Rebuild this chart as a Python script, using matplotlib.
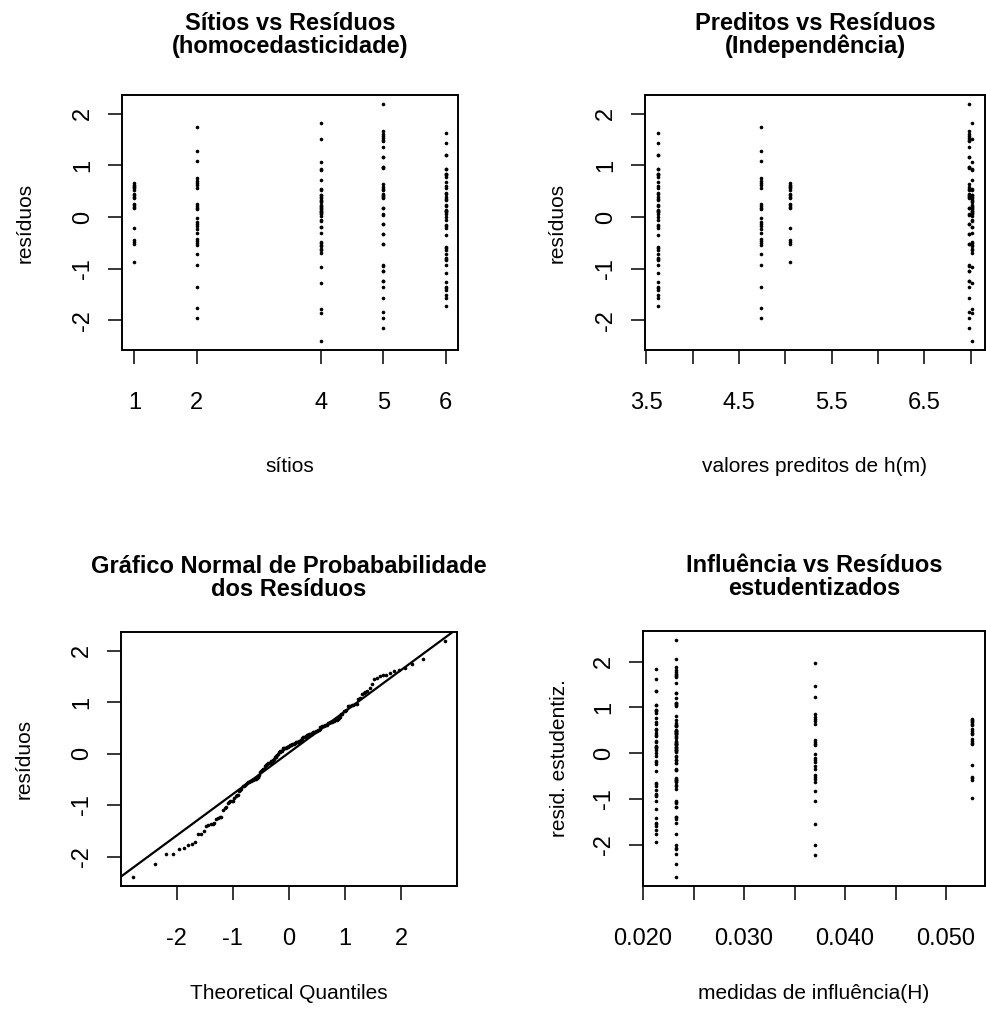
import numpy as np
import matplotlib
matplotlib.use("Agg")
from matplotlib import pyplot as plt
from statistics import NormalDist

# dados: resíduos por sítio
sitios = [1, 2, 4, 5, 6]
preditos = [5.05, 4.74, 7.02, 6.98, 3.62]        # valores preditos de h(m) por sítio
influencia = [0.0526, 0.0370, 0.0233, 0.0233, 0.0213]  # h_ii por sítio

res_s1 = [0.65, 0.63, 0.61, 0.59, 0.56, 0.53, 0.45, 0.42, 0.39, 0.36,
          0.26, 0.23, 0.20, 0.18, -0.22, -0.45, -0.48, -0.52, -0.86]
res_s2 = [1.74, 1.28, 1.08, 0.76, 0.70, 0.66, 0.62, 0.56, 0.26, 0.22,
          0.18, 0.15, -0.02, -0.10, -0.14, -0.18, -0.24, -0.30, -0.42, -0.46,
          -0.50, -0.55, -0.72, -0.93, -1.36, -1.76, -1.96]
res_s4 = [1.83, 1.52, 1.06, 0.93, 0.92, 0.72, 0.54, 0.52, 0.43, 0.42,
          0.38, 0.37, 0.33, 0.32, 0.30, 0.24, 0.22, 0.20, 0.17, 0.16,
          0.12, 0.11, 0.10, 0.08, 0.06, 0.03, -0.05, -0.07, -0.19, -0.20,
          -0.30, -0.49, -0.50, -0.54, -0.56, -0.61, -0.63, -0.69, -0.96, -1.28,
          -1.78, -1.86, -2.39]
res_s5 = [2.18, 1.67, 1.60, 1.57, 1.53, 1.50, 1.47, 1.36, 1.17, 1.16,
          0.97, 0.96, 0.95, 0.64, 0.59, 0.54, 0.52, 0.44, 0.42, 0.40,
          0.38, 0.36, 0.18, 0.17, 0.05, 0.04, -0.13, -0.14, -0.32, -0.33,
          -0.52, -0.53, -0.93, -0.95, -1.04, -1.05, -1.23, -1.24, -1.35, -1.57,
          -1.83, -1.96, -2.15]
res_s6 = [1.63, 1.44, 1.21, 1.20, 0.94, 0.93, 0.84, 0.83, 0.82, 0.77,
          0.67, 0.61, 0.56, 0.47, 0.45, 0.38, 0.35, 0.33, 0.24, 0.22,
          0.13, 0.12, 0.11, 0.10, 0.06, 0.00, -0.06, -0.16, -0.18, -0.22,
          -0.35, -0.58, -0.60, -0.63, -0.71, -0.80, -0.81, -0.83, -0.93, -1.09,
          -1.25, -1.36, -1.38, -1.41, -1.50, -1.57, -1.72]
residuos = [res_s1, res_s2, res_s4, res_s5, res_s6]

plt.rcParams['font.family'] = ['Liberation Sans', 'DejaVu Sans']
plt.rcParams['axes.unicode_minus'] = False

x_sit, x_pred, x_inf, r_all = [], [], [], []
for s, p, h, r in zip(sitios, preditos, influencia, residuos):
    x_sit += [s] * len(r)
    x_pred += [p] * len(r)
    x_inf += [h] * len(r)
    r_all += r
x_sit = np.array(x_sit, float)
x_pred = np.array(x_pred, float)
x_inf = np.array(x_inf, float)
r_all = np.array(r_all, float)

n = len(r_all)
sigma = np.sqrt(np.sum(r_all ** 2) / (n - len(sitios)))
r_stud = r_all / (sigma * np.sqrt(1 - x_inf))

# quantis teóricos (como qqnorm do R)
nd = NormalDist()
probs = (np.arange(1, n + 1) - 0.5) / n
theo = np.array([nd.inv_cdf(p) for p in probs])
r_sorted = np.sort(r_all)
q_y = np.quantile(r_all, [0.25, 0.75])
q_x = np.array([nd.inv_cdf(0.25), nd.inv_cdf(0.75)])
slope = (q_y[1] - q_y[0]) / (q_x[1] - q_x[0])
inter = q_y[0] - slope * q_x[0]


def rlim(v):
    lo, hi = np.min(v), np.max(v)
    d = 0.04 * (hi - lo)
    return lo - d, hi + d


W, H = 986, 1015
fig = plt.figure(figsize=(W / 100, H / 100), dpi=100)


def make_ax(left, top, right, bottom):
    return fig.add_axes([left / W, 1 - bottom / H, (right - left) / W, (bottom - top) / H])


axes = [make_ax(122, 95, 458, 350), make_ax(645, 95, 985, 350),
        make_ax(121, 632, 457, 886), make_ax(643, 631, 985, 886)]

titulos = ['Sítios vs Resíduos\n(homocedasticidade)',
           'Preditos vs Resíduos\n(Independência)',
           'Gráfico Normal de Probababilidade\ndos Resíduos',
           'Influência vs Resíduos\nestudentizados']
xlabels = ['sítios', 'valores preditos de h(m)', 'Theoretical Quantiles',
           'medidas de influência(H)']
ylabels = ['resíduos', 'resíduos', 'resíduos', 'resid. estudentiz.']
xlab_y = [-0.42, -0.42, -0.385, -0.385]
ylab_x = [-0.26, -0.23, -0.26, -0.215]
title_pad = [30, 30, 26, 26]

dot = dict(ls='none', marker='o', ms=2.6, color='black', mew=0)

ax = axes[0]
ax.plot(x_sit, r_all, **dot)
ax.set_xlim(rlim(x_sit))
ax.set_ylim(rlim(r_all))
ax.set_xticks(sitios)

ax = axes[1]
ax.plot(x_pred, r_all, **dot)
ax.set_xlim(rlim(x_pred))
ax.set_ylim(rlim(r_all))
ax.set_xticks(np.arange(3.5, 7.01, 0.5))
ax.set_xticklabels(['3.5', '', '4.5', '', '5.5', '', '6.5', ''])

ax = axes[2]
ax.plot(theo, r_sorted, **dot)
ax.axline((0, inter), slope=slope, color='black', lw=1.6)
ax.set_xlim(rlim(theo))
ax.set_ylim(rlim(r_sorted))
ax.set_xticks([-2, -1, 0, 1, 2])

ax = axes[3]
ax.plot(x_inf, r_stud, **dot)
ax.set_xlim(rlim(x_inf))
ax.set_ylim(rlim(r_stud))
ax.set_xticks(np.arange(0.020, 0.0501, 0.005))
ax.set_xticklabels(['0.020', '', '0.030', '', '0.040', '', '0.050'])

for i, ax in enumerate(axes):
    ax.set_yticks([-2, -1, 0, 1, 2])
    ax.tick_params(direction='out', length=10, width=1.1, labelsize=17)
    ax.tick_params(axis='x', pad=20)
    ax.tick_params(axis='y', pad=10, labelrotation=90)
    for lab in ax.get_yticklabels():
        lab.set_va('center')
    for sp in ax.spines.values():
        sp.set_linewidth(1.4)
    ax.set_title(titulos[i], fontsize=17, fontweight='bold', pad=title_pad[i],
                 linespacing=1.0)
    ax.set_xlabel(xlabels[i], fontsize=15)
    ax.set_ylabel(ylabels[i], fontsize=15)
    ax.xaxis.set_label_coords(0.5, xlab_y[i])
    ax.yaxis.set_label_coords(ylab_x[i], 0.5)

fig.savefig('out.png', dpi=100)
